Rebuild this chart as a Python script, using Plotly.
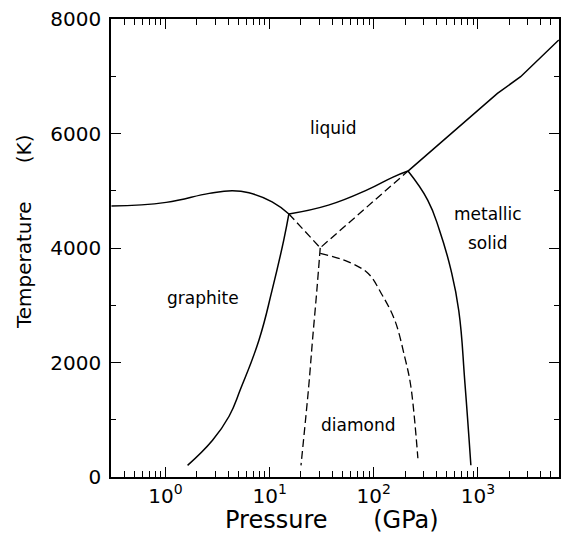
import math
import plotly.graph_objects as go

# Phase boundaries (pressure in GPa, temperature in K)
graphite_liquid_P = [0.303, 1.015, 2.63, 4.39, 6.33, 10.56, 15.3]
graphite_liquid_T = [4732, 4797, 4954, 4999, 4964, 4807, 4595]

diamond_liquid_P = [15.3, 36.7, 88.4, 153, 213]
diamond_liquid_T = [4595, 4749, 5024, 5239, 5344]

metal_liquid_P = [213, 1538, 2567, 5970]
metal_liquid_T = [5344, 6702, 6992, 7633]

graphite_diamond_P = [1.63, 2.83, 4.08, 5.28, 7.89, 10.56, 13.66, 15.3]
graphite_diamond_T = [204, 642, 1061, 1545, 2390, 3264, 4138, 4595]

diamond_metal_P = [213, 330, 427, 551, 655, 750, 855]
diamond_metal_T = [5344, 4833, 4312, 3613, 2900, 1633, 204]

# Metastable (dashed) boundaries
dash_a_P = [15.3, 30.6, 213]
dash_a_T = [4595, 4003, 5344]

dash_c_P = [30.6, 28.4, 25.8, 23.7, 20.0]
dash_c_T = [4003, 3264, 2390, 1573, 204]

dash_d_P = [30.6, 57.0, 88.4, 118, 159, 198, 226, 265]
dash_d_T = [3905, 3758, 3555, 3206, 2739, 2098, 1603, 327]

# Region labels
label_text = ["liquid", "graphite", "diamond", "metallic", "solid"]
label_P = [41, 2.3, 71, 1262, 1262]
label_T = [6095, 3124, 904, 4589, 4082]

x_major = [1, 10, 100, 1000]
x_major_text = ["10<sup>0</sup>", "10<sup>1</sup>", "10<sup>2</sup>", "10<sup>3</sup>"]
x_minor = [m * 10 ** e for e in range(-1, 4) for m in range(2, 10) if 0.3 <= m * 10 ** e <= 6000]
y_major = [0, 2000, 4000, 6000, 8000]
y_minor = [1000, 3000, 5000, 7000]

x_title = "Pressure\u00a0\u00a0\u00a0\u00a0\u00a0\u00a0(GPa)"
y_title = "Temperature\u00a0\u00a0\u00a0\u00a0\u00a0\u00a0(K)"

FONT = "DejaVu Sans"
fig = go.Figure()
solid = dict(color="black", width=1.5, shape="spline", smoothing=1.3)
dashed = dict(color="black", width=1.3, dash="8px,4px", shape="spline", smoothing=1.0)
for P, T in [(graphite_liquid_P, graphite_liquid_T), (diamond_liquid_P, diamond_liquid_T),
             (graphite_diamond_P, graphite_diamond_T), (diamond_metal_P, diamond_metal_T)]:
    fig.add_trace(go.Scatter(x=P, y=T, mode="lines", line=solid, showlegend=False, hoverinfo="skip"))
fig.add_trace(go.Scatter(x=metal_liquid_P, y=metal_liquid_T, mode="lines",
                         line=dict(color="black", width=1.5), showlegend=False, hoverinfo="skip"))
fig.add_trace(go.Scatter(x=dash_a_P, y=dash_a_T, mode="lines",
                         line=dict(color="black", width=1.3, dash="8px,4px"),
                         showlegend=False, hoverinfo="skip"))
for P, T in [(dash_c_P, dash_c_T), (dash_d_P, dash_d_T)]:
    fig.add_trace(go.Scatter(x=P, y=T, mode="lines", line=dashed, showlegend=False, hoverinfo="skip"))

for t, p, T in zip(label_text, label_P, label_T):
    fig.add_annotation(x=math.log10(p), y=T, text=t, showarrow=False,
                       font=dict(family=FONT, size=17, color="black"))

# axis titles
fig.add_annotation(text=x_title, xref="paper", yref="paper", x=0.494, y=-0.094,
                   xanchor="center", yanchor="middle", showarrow=False,
                   font=dict(family=FONT, size=24, color="black"))
fig.add_annotation(text=y_title, xref="paper", yref="paper", x=-0.194, y=0.535,
                   xanchor="center", yanchor="middle", showarrow=False, textangle=-90,
                   font=dict(family=FONT, size=20, color="black"))

axis_common = dict(showgrid=False, zeroline=False, showline=True, linecolor="black", linewidth=1.5,
                   mirror="ticks", ticks="inside", tickcolor="black", tickwidth=1.2, ticklen=10,
                   tickfont=dict(family=FONT, size=20, color="black"))

fig.update_xaxes(type="log", range=[-0.523, 3.778], tickvals=x_major, ticktext=x_major_text,
                 minor=dict(tickvals=x_minor, ticks="inside", ticklen=6, tickcolor="black", tickwidth=1.2),
                 **axis_common)
fig.update_yaxes(range=[0, 8000], tickvals=y_major, ticktext=[str(v) for v in y_major],
                 minor=dict(tickvals=y_minor, ticks="inside", ticklen=5, tickcolor="black", tickwidth=1.2),
                 ticklabelstandoff=4,
                 **axis_common)

fig.update_layout(width=562, height=540, margin=dict(l=111, r=1, t=19, b=63),
                  plot_bgcolor="white", paper_bgcolor="white")
fig.write_html("out.html")
